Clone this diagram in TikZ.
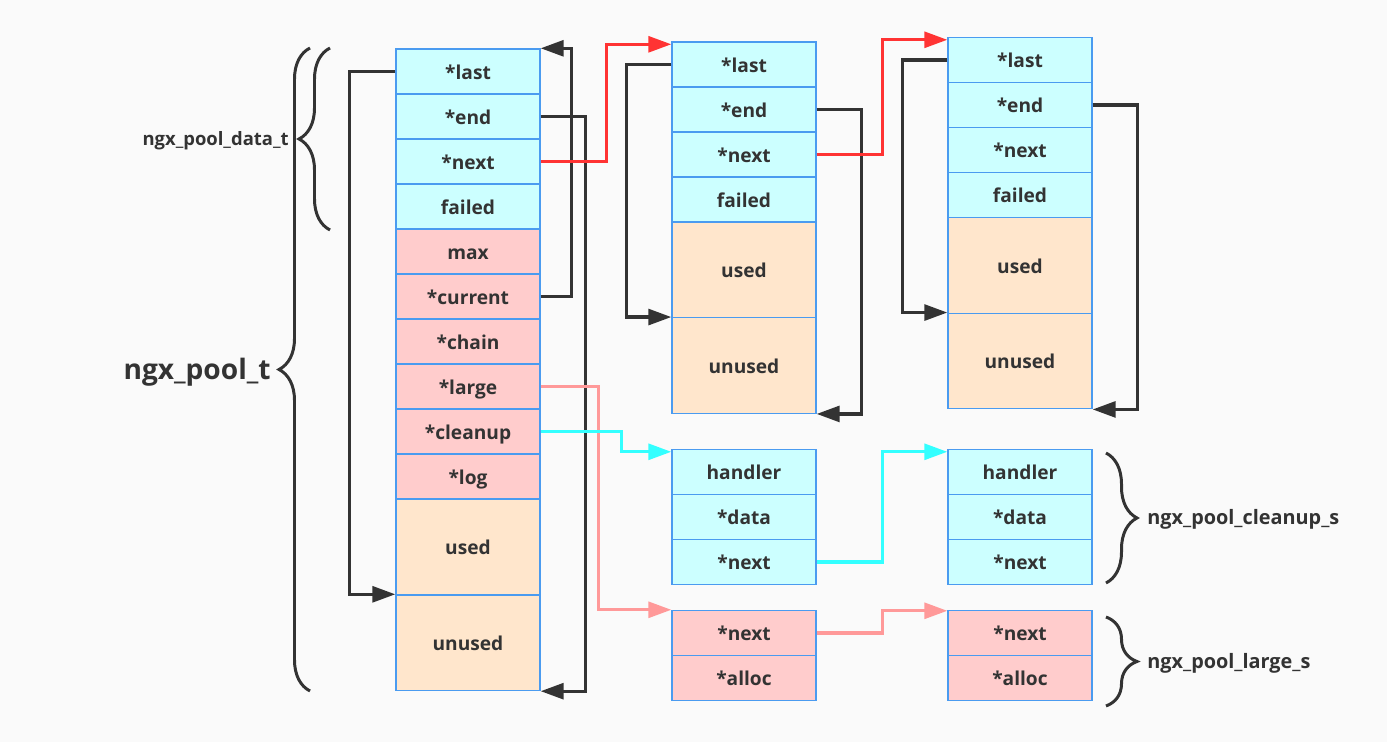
\documentclass[tikz,border=0pt]{standalone}
\usepackage{fontspec}
\setmainfont{Open Sans}
\usetikzlibrary{arrows.meta,calc,decorations.pathreplacing}

\definecolor{bgcolor}{RGB}{250,250,250}
\definecolor{cellcyan}{HTML}{CCFFFF}
\definecolor{cellpink}{HTML}{FFCCCC}
\definecolor{cellpeach}{HTML}{FFE6CC}
\definecolor{cellline}{HTML}{4A9BF0}
\definecolor{textdark}{HTML}{333333}
\definecolor{linered}{HTML}{FF3333}
\definecolor{linecyan}{HTML}{33FFFF}
\definecolor{linepink}{HTML}{FF9999}

\tikzset{
  cell/.style={draw=cellline, line width=0.8pt, minimum width=2.88cm,
    minimum height=0.9cm, inner sep=0pt, text=textdark,
    text height=2ex, text depth=0.3ex,
    font=\fontsize{10.9}{12}\selectfont\bfseries},
  cyancell/.style={cell, fill=cellcyan},
  pinkcell/.style={cell, fill=cellpink},
  usedcell/.style={cell, fill=cellpeach, minimum height=1.92cm},
  unusedcell/.style={cell, fill=cellpeach, minimum height=1.91cm},
  lbl/.style={inner sep=0pt, text=textdark, font=\fontsize{11.3}{13}\selectfont\bfseries},
  link/.style={line width=1.8pt, -{Triangle[length=13pt,width=9pt]}},
  blacklink/.style={link, draw=textdark},
  redlink/.style={link, draw=linered},
  cyanlink/.style={link, draw=linecyan},
  pinklink/.style={link, draw=linepink},
  brace/.style={draw=textdark, line width=1.7pt, decorate,
    decoration={brace, amplitude=0.62cm}}
}

\begin{document}
\begin{tikzpicture}[x=0.02cm, y=-0.02cm]
  \fill[bgcolor] (0,0) rectangle (1387,742);
  \useasboundingbox (0,0) rectangle (1387,742);

  % ngx_pool_t
  \node[cyancell] (last1) at (468,71.5) {*last};
  \node[cyancell] (end1) at (468,116.5) {*end};
  \node[cyancell] (next1) at (468,161.5) {*next};
  \node[cyancell] (failed1) at (468,206.5) {failed};
  \node[pinkcell] (max1) at (468,251.5) {max};
  \node[pinkcell] (current1) at (468,296.5) {*current};
  \node[pinkcell] (chain1) at (468,341.5) {*chain};
  \node[pinkcell] (large1) at (468,386.5) {*large};
  \node[pinkcell] (cleanup1) at (468,431.5) {*cleanup};
  \node[pinkcell] (log1) at (468,476.5) {*log};
  \node[usedcell] (used1) at (468,547) {used};
  \node[unusedcell] (unused1) at (468,642.75) {unused};

  % second block
  \node[cyancell] (last2) at (744,64.5) {*last};
  \node[cyancell] (end2) at (744,109.5) {*end};
  \node[cyancell] (next2) at (744,154.5) {*next};
  \node[cyancell] (failed2) at (744,199.5) {failed};
  \node[usedcell] (used2) at (744,270) {used};
  \node[unusedcell] (unused2) at (744,365.5) {unused};

  % third block
  \node[cyancell] (last3) at (1020,60) {*last};
  \node[cyancell] (end3) at (1020,105) {*end};
  \node[cyancell] (next3) at (1020,150) {*next};
  \node[cyancell] (failed3) at (1020,195) {failed};
  \node[usedcell] (used3) at (1020,265.5) {used};
  \node[unusedcell] (unused3) at (1020,361) {unused};

  % cleanup
  \node[cyancell] (handler2) at (744,472) {handler};
  \node[cyancell] (data2) at (744,517) {*data};
  \node[cyancell] (cnext2) at (744,562) {*next};
  \node[cyancell] (handler3) at (1020,472) {handler};
  \node[cyancell] (data3) at (1020,517) {*data};
  \node[cyancell] (cnext3) at (1020,562) {*next};

  % large
  \node[pinkcell] (lnext2) at (744,633) {*next};
  \node[pinkcell] (alloc2) at (744,678) {*alloc};
  \node[pinkcell] (lnext3) at (1020,633) {*next};
  \node[pinkcell] (alloc3) at (1020,678) {*alloc};

  % braces
  \draw[brace] (310,691) -- (310,48);
  \draw[brace] (330,230) -- (330,48);
  \draw[brace] (1106,453) -- (1106,583);
  \draw[brace] (1106,617) -- (1106,706);
  \node[lbl, anchor=east, font=\fontsize{16}{18}\selectfont\bfseries] (pool) at (271,372) {ngx\_pool\_t};
  \node[lbl, anchor=east, font=\fontsize{10.5}{12}\selectfont\bfseries] (pooldata) at (289,141) {ngx\_pool\_data\_t};
  \node[lbl, anchor=west] (poolcleanup) at (1147,519) {ngx\_pool\_cleanup\_s};
  \node[lbl, anchor=west] (poollarge) at (1147,663) {ngx\_pool\_large\_s};

  % links
  \draw[blacklink] (last1.west) -- ++(-46,0) |- (unused1.north west);
  \draw[blacklink] (end1.east) -- ++(45,0) |- (unused1.south east);
  \draw[blacklink] (current1.east) -- ++(31,0) |- (last1.north east);
  \draw[blacklink] (last2.west) -- ++(-45,0) |- (unused2.north west);
  \draw[blacklink] (end2.east) -- ++(45,0) |- (unused2.south east);
  \draw[blacklink] (last3.west) -- ++(-45,0) |- (unused3.north west);
  \draw[blacklink] (end3.east) -- ++(45,0) |- (unused3.south east);
  \draw[redlink] (next1.east) -- ++(66,0) |- ($(last2.north west)+(0,3)$);
  \draw[redlink] (next2.east) -- ++(66,0) |- ($(last3.north west)+(0,3)$);
  \draw[pinklink] (large1.east) -- ++(58,0) |- (lnext2.north west);
  \draw[cyanlink] (cleanup1.east) -- ++(81,0) |- ($(handler2.north west)+(0,3)$);
  \draw[cyanlink] (cnext2.east) -- ++(66,0) |- ($(handler3.north west)+(0,3)$);
  \draw[pinklink] (lnext2.east) -- ++(66,0) |- ($(lnext3.north west)+(0,1)$);
\end{tikzpicture}
\end{document}
